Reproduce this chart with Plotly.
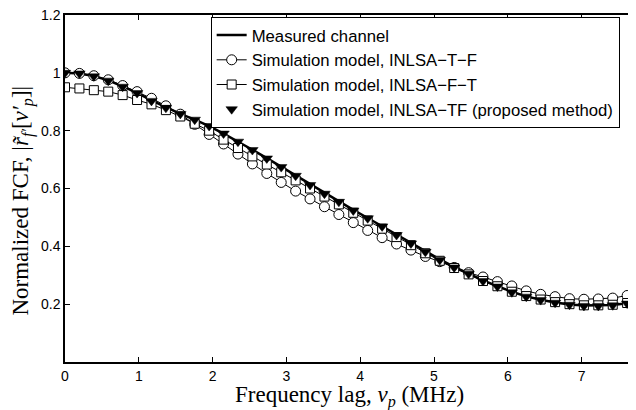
import plotly.graph_objects as go

step = 0.1953125
x = [round(k * step, 4) for k in range(40)]

measured = [1.000, 0.998, 0.989, 0.974, 0.953, 0.931, 0.905, 0.881, 0.858, 0.838,
            0.816, 0.790, 0.763, 0.734, 0.705, 0.675, 0.645, 0.614, 0.584, 0.555,
            0.526, 0.498, 0.469, 0.440, 0.411, 0.382, 0.355, 0.329, 0.306, 0.282,
            0.262, 0.243, 0.227, 0.215, 0.206, 0.199, 0.195, 0.195, 0.197, 0.203]

tf = [1.000, 0.998, 0.988, 0.973, 0.952, 0.930, 0.903, 0.879, 0.858, 0.838,
      0.816, 0.790, 0.762, 0.733, 0.704, 0.674, 0.644, 0.612, 0.582, 0.554,
      0.524, 0.497, 0.469, 0.439, 0.410, 0.381, 0.353, 0.327, 0.305, 0.280,
      0.261, 0.241, 0.226, 0.214, 0.205, 0.198, 0.194, 0.194, 0.196, 0.202]

t_f = [1.000, 0.998, 0.990, 0.976, 0.956, 0.935, 0.912, 0.886, 0.857, 0.822,
       0.787, 0.754, 0.719, 0.685, 0.652, 0.621, 0.591, 0.564, 0.537, 0.510,
       0.482, 0.455, 0.430, 0.408, 0.387, 0.365, 0.347, 0.327, 0.309, 0.294,
       0.278, 0.263, 0.246, 0.234, 0.226, 0.219, 0.217, 0.218, 0.221, 0.230]

f_t = [0.950, 0.946, 0.940, 0.935, 0.923, 0.906, 0.891, 0.871, 0.849, 0.824,
       0.800, 0.769, 0.740, 0.711, 0.683, 0.656, 0.628, 0.600, 0.572, 0.545,
       0.516, 0.489, 0.461, 0.432, 0.404, 0.376, 0.350, 0.325, 0.303, 0.280,
       0.262, 0.243, 0.228, 0.216, 0.207, 0.200, 0.196, 0.196, 0.198, 0.204]

x_ticks = [0, 1, 2, 3, 4, 5, 6, 7]
y_ticks = [0.2, 0.4, 0.6, 0.8, 1.0, 1.2]
y_tick_labels = ["0.2", "0.4", "0.6", "0.8", "1", "1.2"]

x_title = "Frequency lag, <i>\u03bd<sub>p</sub></i> (MHz)"
y_title = "Normalized FCF, |<i>r\u0303<sub>f\u2032</sub></i>[<i>\u03bd\u2032<sub>p</sub></i>]|"

fig = go.Figure()
fig.add_trace(go.Scatter(x=x, y=measured, mode="lines", name="Measured channel",
                         line=dict(color="black", width=2.5)))
fig.add_trace(go.Scatter(x=x, y=t_f, mode="lines+markers", name="Simulation model, INLSA\u2212T\u2212F",
                         line=dict(color="black", width=1),
                         marker=dict(symbol="circle", size=10, color="white",
                                     line=dict(color="black", width=1))))
fig.add_trace(go.Scatter(x=x, y=f_t, mode="lines+markers", name="Simulation model, INLSA\u2212F\u2212T",
                         line=dict(color="black", width=1),
                         marker=dict(symbol="square", size=9, color="white",
                                     line=dict(color="black", width=1))))
fig.add_trace(go.Scatter(x=x, y=tf, mode="markers", name="Simulation model, INLSA\u2212TF (proposed method)",
                         marker=dict(symbol="triangle-down", size=10, color="black",
                                     line=dict(color="black", width=0.5))))

axis_common = dict(showline=True, linecolor="black", linewidth=1.5, mirror="allticks",
                   ticks="inside", ticklen=5, tickcolor="black", tickwidth=1,
                   showgrid=False, zeroline=False, automargin=False,
                   ticklabeloverflow="allow",
                   tickfont=dict(family="Liberation Sans, Arial, sans-serif", size=14, color="black"))

fig.update_xaxes(range=[0, 7.71], tickvals=x_ticks, **axis_common)
fig.update_yaxes(range=[0, 1.2], tickvals=y_ticks, ticktext=y_tick_labels, **axis_common)

title_font = dict(family="Liberation Serif, serif", size=23, color="black")
fig.add_annotation(text=x_title, xref="paper", yref="paper", x=0.50, y=-0.098,
                   xanchor="center", yanchor="middle", showarrow=False, font=title_font)
fig.add_annotation(text=y_title, xref="paper", yref="paper", x=-0.074, y=0.465,
                   xanchor="center", yanchor="middle", showarrow=False, textangle=-90,
                   font=title_font)

# page body has an 8px margin, so the figure is drawn 8px smaller and offset
fig.update_layout(
    width=628, height=402,
    margin=dict(l=57, r=2, t=7, b=48),
    plot_bgcolor="white", paper_bgcolor="white",
    legend=dict(x=0.256, y=0.995, xanchor="left", yanchor="top",
                bgcolor="white", bordercolor="black", borderwidth=1,
                font=dict(family="Liberation Sans, Arial, sans-serif", size=16.7, color="black"),
                tracegroupgap=0),
)

fig.write_html("out.html")
